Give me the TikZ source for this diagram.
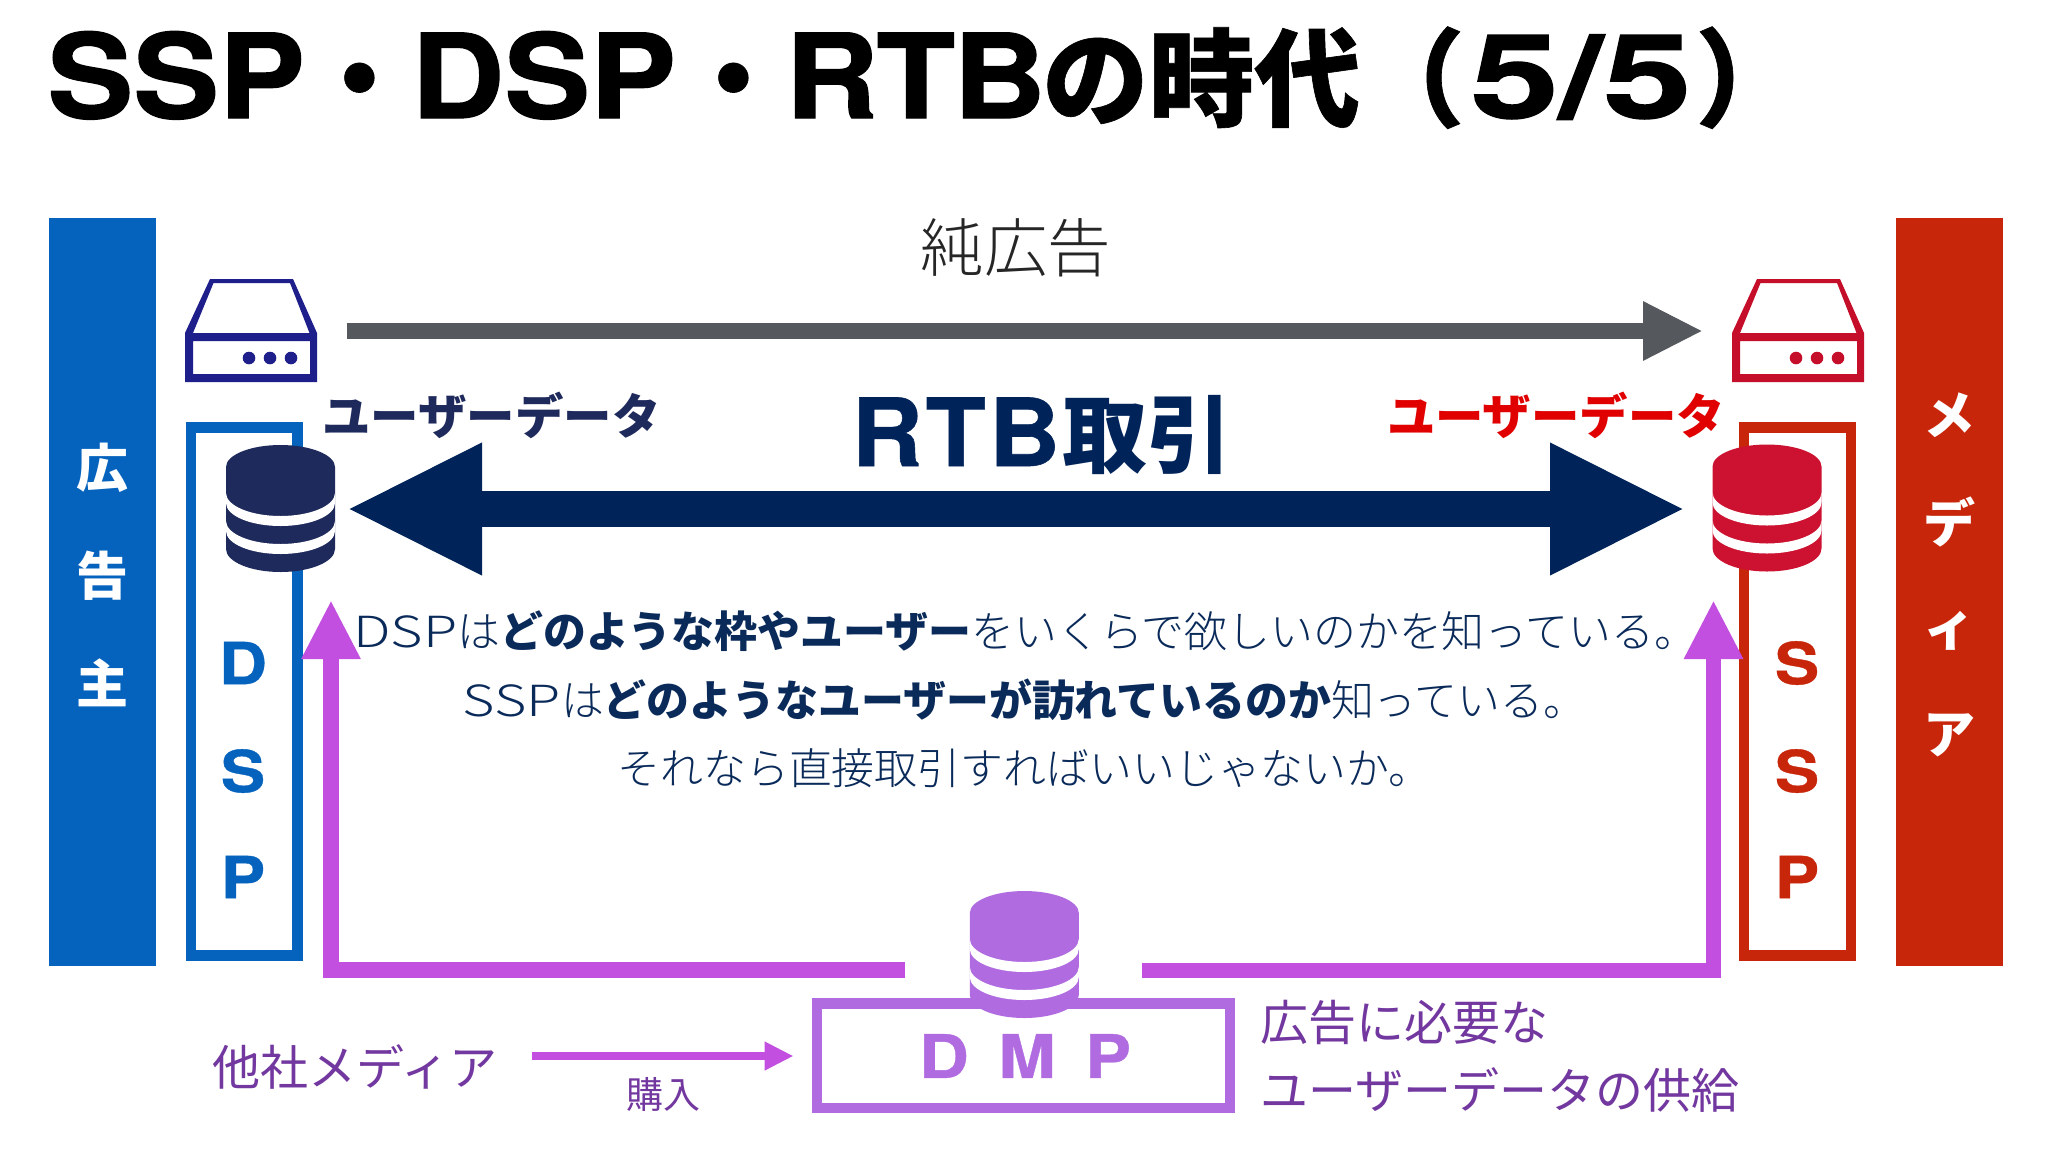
\documentclass[tikz,border=0pt]{standalone}
\usepackage{fontspec}
\usetikzlibrary{arrows.meta,calc}
\setmainfont{Noto Sans CJK JP Light}
\newfontfamily\titlelat[FakeStretch=1.1,FakeBold=1.2]{TeX Gyre Heros Bold}
\newfontfamily\titledig[FakeStretch=1.36,FakeBold=1.2]{TeX Gyre Heros Bold}
\newfontfamily\titlecjk[FakeBold=0.6]{Noto Sans CJK JP Black}
\newfontfamily\rtblat[FakeStretch=1.05,FakeBold=0.6]{TeX Gyre Heros Bold}
\newfontfamily\heavy[FakeStretch=1.15,FakeBold=0.6]{TeX Gyre Heros Bold}
\newfontfamily\cjkblack{Noto Sans CJK JP Black}
\newfontfamily\bodylat[FakeStretch=1.3]{Noto Sans CJK JP Light}
\newfontfamily\cjkreg{Noto Sans CJK JP}
\newcommand{\fs}[1]{\fontsize{#1}{#1}\selectfont}
\definecolor{barblue}{HTML}{0563BE}
\definecolor{barred}{HTML}{C8260A}
\definecolor{srvblue}{HTML}{1F1F8C}
\definecolor{srvred}{HTML}{C50F2A}
\definecolor{dbblue}{HTML}{1F2A5C}
\definecolor{dbred}{HTML}{CC1230}
\definecolor{dmppurple}{HTML}{B06BE0}
\definecolor{arrgray}{HTML}{55585C}
\definecolor{arrnavy}{HTML}{00245A}
\definecolor{arrpurple}{HTML}{C24FDF}
\definecolor{txtpurple}{HTML}{7338A0}
\definecolor{txtnavy}{HTML}{0A2A5A}
\tikzset{
  barbox/.style={fill=#1,draw=none},
  frame/.style={draw=#1,line width=5.25pt,fill=white,miter limit=10},
  vlabel/.style={text=white,font=\cjkblack\fs{26}},
  boxletter/.style={text=#1,font=\heavy\fs{29}},
  bodyline/.style={text=txtnavy,font=\fs{21.45},anchor=west,inner sep=0pt},
  purplelabel/.style={text=txtpurple,font=\cjkreg\fs{24},anchor=base west,inner sep=0pt},
  userdata/.style={text=#1,font=\cjkblack\fs{24.2},anchor=center},
  serverpic/.pic={
    \fill[#1,even odd rule] (185,382) -- (185,333) -- (210,279) -- (293,279) -- (317,333) -- (317,382) -- cycle
      (213.5,283) -- (290,283) -- (309.5,333) -- (193,333) -- cycle
      (193,341) rectangle (310,374);
    \fill[#1] (249,358) circle[radius=6.3] (270,358) circle[radius=6.3] (291,358) circle[radius=6.3];
  },
  dbpic/.pic={
    \fill[#1] (-54.5,22) arc[start angle=180,end angle=360,x radius=54.5,y radius=22]
      -- (54.5,104) arc[start angle=0,end angle=180,x radius=54.5,y radius=23] -- cycle;
    \fill[white] (-54.5,48) arc[start angle=180,end angle=0,x radius=54.5,y radius=23]
      -- (54.5,58) arc[start angle=0,end angle=180,x radius=54.5,y radius=23] -- cycle;
    \fill[white] (-54.5,76) arc[start angle=180,end angle=0,x radius=54.5,y radius=23]
      -- (54.5,86) arc[start angle=0,end angle=180,x radius=54.5,y radius=23] -- cycle;
  },
}
\begin{document}
\begin{tikzpicture}[x=0.5pt,y=-0.5pt]
\useasboundingbox (0,0) rectangle (2048,1152);
\fill[white] (0,0) rectangle (2048,1152);

% title (boxes fix each run's place; widths are px/2)
\node[anchor=base west,inner sep=0pt,text=black] (title) at (47,118)
  {\fs{58.5}\titlelat
   \makebox[130pt][l]{SSP}%
   \makebox[52pt][c]{\titlecjk\fs{53}・}%
   \makebox[135pt][l]{DSP}%
   \makebox[52pt][c]{\titlecjk\fs{53}・}%
   \makebox[128.5pt][l]{R\kern-1pt T\kern-1pt B}%
   \makebox[158pt][l]{\titlecjk\fs{53}の時代}%
   \makebox[56pt][l]{\titlecjk\fs{53}（}%
   \makebox[112.5pt][l]{\titledig 5/5}%
   \makebox[30pt][l]{\titlecjk\fs{53}）}};

% side bars
\fill[barbox=barblue] (49,217.5) rectangle (155.5,966);
\fill[barbox=barred] (1896,217.5) rectangle (2003,966);
\node[vlabel] (adv1) at (102,468) {広};
\node[vlabel] (adv2) at (102,576) {告};
\node[vlabel] (adv3) at (102,683) {主};
\node[vlabel] (med1) at (1949,415) {メ};
\node[vlabel] (med2) at (1949,522) {デ};
\node[vlabel] (med3) at (1949,631) {ィ};
\node[vlabel] (med4) at (1949,735) {ア};

% frames
\draw[frame=barblue] (191,427.5) rectangle (297.5,955.5);
\draw[frame=barred] (1744,427.5) rectangle (1851,955.5);
\draw[frame=dmppurple] (817,1003.5) rectangle (1230,1108);

\node[boxletter=barblue] (d1) at (243,663) {D};
\node[boxletter=barblue] (d2) at (243,771) {S};
\node[boxletter=barblue] (d3) at (243,877) {P};
\node[boxletter=barred] (s1) at (1797,663) {S};
\node[boxletter=barred] (s2) at (1797,771) {S};
\node[boxletter=barred] (s3) at (1797,877) {P};
\node[text=dmppurple,font=\heavy\fs{30}] (dmpD) at (944,1056) {D};
\node[text=dmppurple,font=\heavy\fs{30}] (dmpM) at (1027,1056) {M};
\node[text=dmppurple,font=\heavy\fs{30}] (dmpP) at (1108,1056) {P};

% icons
\pic {serverpic=srvblue};
\pic[xshift=773.5pt] {serverpic=srvred};
\pic at (280.5,445) {dbpic=dbblue};
\pic at (1767,444.5) {dbpic=dbred};
\pic at (1024.3,891) {dbpic=dmppurple};

% connectors
\coordinate (grayS) at (346.5,331);
\coordinate (grayE) at (1703,331);
\coordinate (navyL) at (346,509);
\coordinate (navyR) at (1686,509);
\coordinate (pLs) at (905,970);
\coordinate (pLe) at (331,600);
\coordinate (pRs) at (1142,970.5);
\coordinate (pRe) at (1713.5,600);
\coordinate (buyS) at (532,1056);
\coordinate (buyE) at (793.5,1056);
\draw[line width=8pt,arrgray,-{Triangle[length=30pt,width=27.5pt]}] (grayS) -- (grayE);
\draw[line width=18pt,arrnavy,{Triangle[length=68pt,width=61pt]}-{Triangle[length=68pt,width=61pt]}] (navyL) -- (navyR);
\draw[line width=8pt,arrpurple,miter limit=10,-{Triangle[length=29.5pt,width=27.5pt]}] (pLs) -| (pLe);
\draw[line width=7.5pt,arrpurple,miter limit=10,-{Triangle[length=29.5pt,width=27.5pt]}] (pRs) -| (pRe);
\draw[line width=3.7pt,arrpurple,-{Triangle[length=14.5pt,width=13.5pt]}] (buyS) -- (buyE);

% labels
\node[text=black!85,font=\fs{31.7}] (pure) at (1016,248) {純広告};
\node[text=arrnavy,inner sep=0pt,anchor=base west] (rtb) at (851,466)
  {\makebox[105.5pt][l]{\rtblat\fs{47}R\kern1.5pt T\kern1.5pt B}{\cjkblack\fs{42.5}取引}};
\node[userdata=dbblue] (ud1) at (491.5,415) {ユーザーデータ};
\node[userdata=red!88!black] (ud2) at (1556,415) {ユーザーデータ};
\node[bodyline] (b1) at (353,631) {{\bodylat DSP}は{\cjkblack どのような枠やユーザー}をいくらで欲しいのかを知っている。};
\node[bodyline] (b2) at (462.5,700) {{\bodylat SSP}は{\cjkblack どのようなユーザーが訪れているのか}知っている。};
\node[bodyline] (b3) at (617,768) {それなら直接取引すればいいじゃないか。};
\node[purplelabel] (other) at (212,1085) {他社メディア};
\node[text=txtpurple,font=\cjkreg\fs{18.5}] (buy) at (663,1094) {購入};
\node[purplelabel] (sup1) at (1260,1040.5) {広告に必要な};
\node[purplelabel] (sup2) at (1260,1108) {ユーザーデータの供給};
\end{tikzpicture}
\end{document}
